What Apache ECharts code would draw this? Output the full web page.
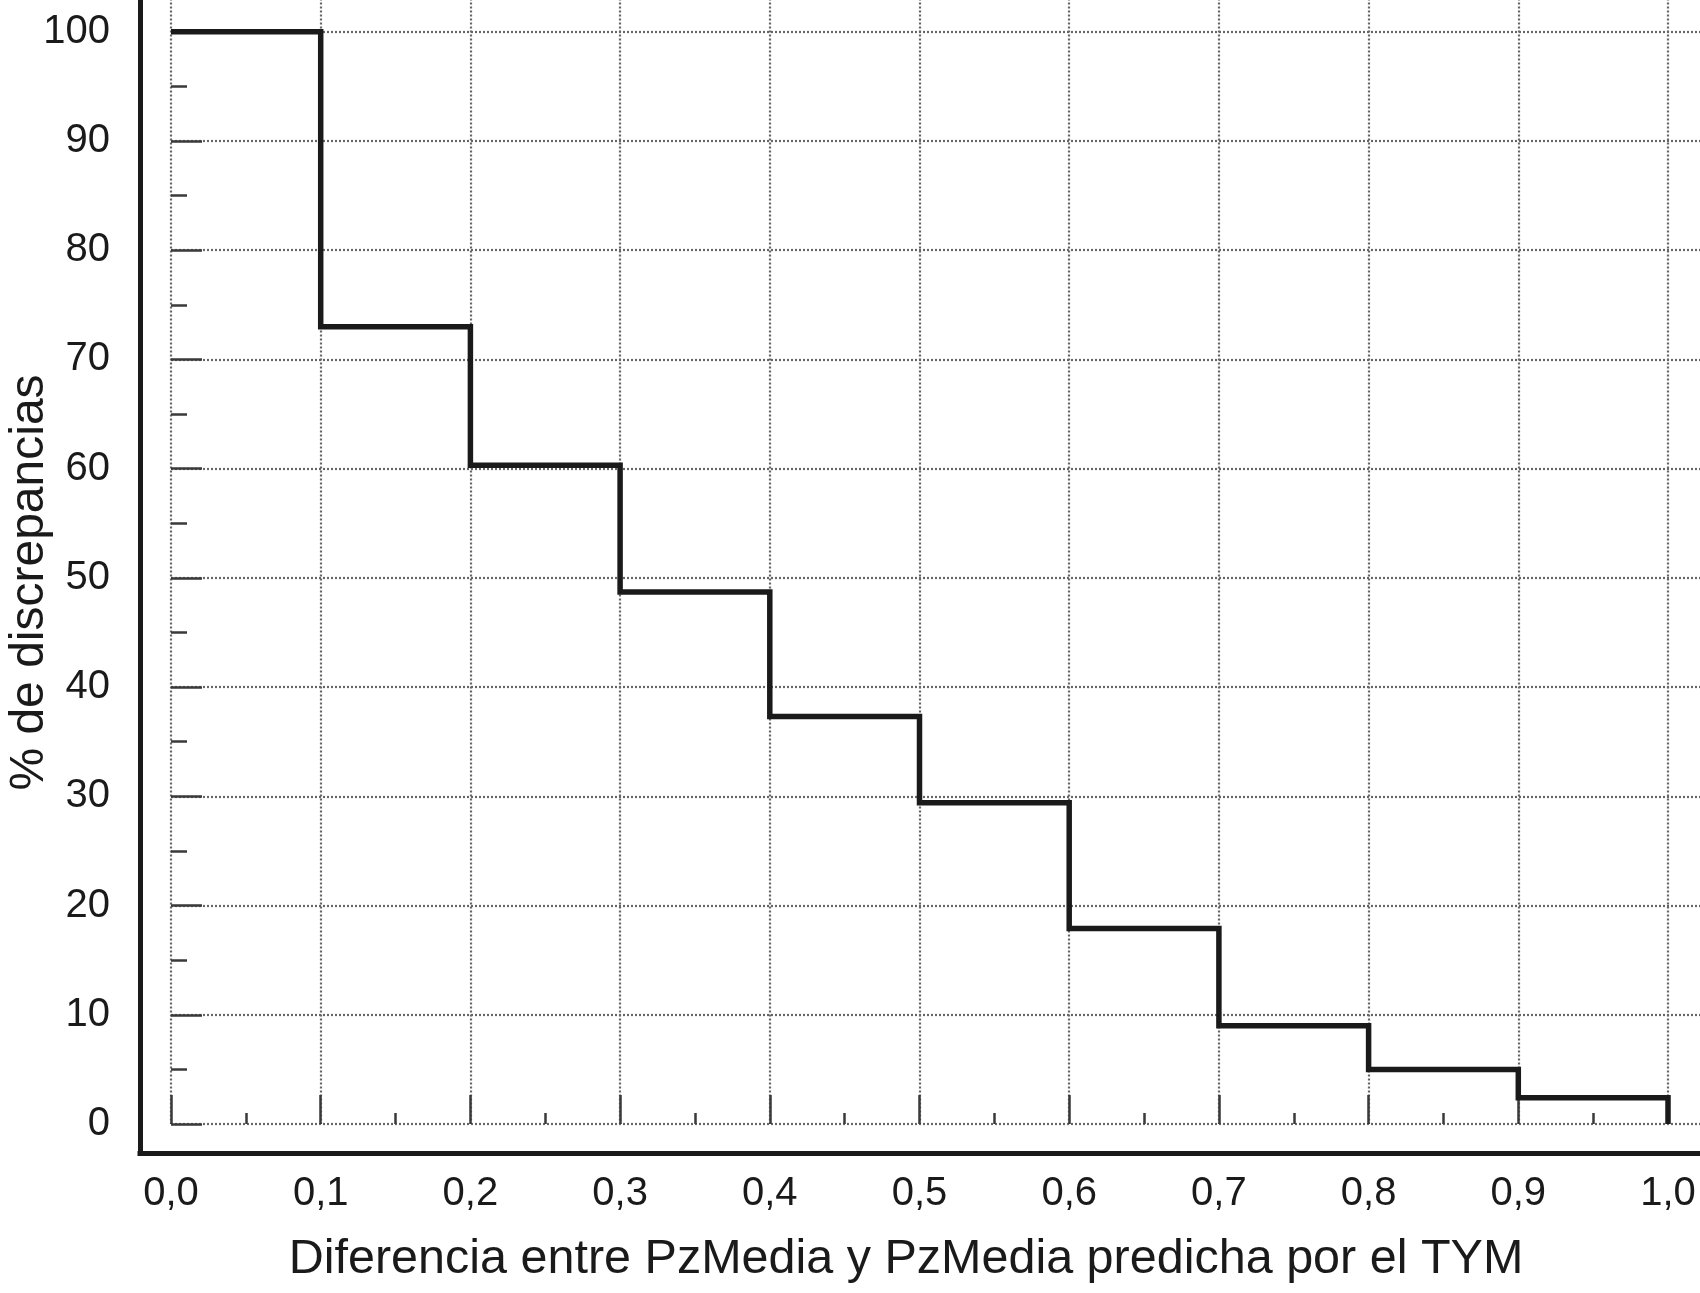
<!DOCTYPE html>
<html>
<head>
<meta charset="utf-8">
<script src="https://cdn.jsdelivr.net/npm/echarts@6/dist/echarts.min.js"></script>
<style>
html,body{margin:0;padding:0;background:#fff;}
#chart{width:1700px;height:1293px;}
</style>
</head>
<body>
<div id="chart"></div>
<script>
// Data (step function)
const xValues = [0.0, 0.1, 0.2, 0.3, 0.4, 0.5, 0.6, 0.7, 0.8, 0.9, 1.0];
const pctDiscrepancias = [100, 73, 60.3, 48.7, 37.3, 29.4, 17.9, 9.0, 5.0, 2.4, 0];
const xTickLabels = ['0,0','0,1','0,2','0,3','0,4','0,5','0,6','0,7','0,8','0,9','1,0'];
const yTickLabels = ['0','10','20','30','40','50','60','70','80','90','100'];
const xTitle = 'Diferencia entre PzMedia y PzMedia predicha por el TYM';
const yTitle = '% de discrepancias';

const FONT = '"Liberation Sans", Arial, Helvetica, sans-serif';
const INK = '#1a1a1a';
const TICK = '#3a3a3a';
const GRIDC = '#666666';

const chart = echarts.init(document.getElementById('chart'), null, {renderer: 'canvas'});

const seriesData = xValues.map((x, i) => [x, pctDiscrepancias[i]]);

chart.setOption({
  animation: false,
  backgroundColor: '#ffffff',
  grid: [
    // data grid (extends beyond the canvas so gridlines run to the edges)
    {left: 171, width: 1646.7, bottom: 169, height: 1201.5, containLabel: false, outerBoundsMode: 'none'},
    // frame grid (thick axis lines)
    {left: 140, right: -10, top: 0, bottom: 140, containLabel: false, outerBoundsMode: 'none'}
  ],
  xAxis: [
    {
      type: 'value', gridIndex: 0, min: 0, max: 1.1, interval: 0.1,
      offset: 29,
      axisLine: {show: false},
      axisTick: {show: true, inside: true, length: 29, lineStyle: {color: TICK, width: 2.5}},
      minorTick: {show: true, splitNumber: 2, length: 11, lineStyle: {color: TICK, width: 2.5}},
      axisLabel: {
        show: true, margin: 21, color: INK, fontSize: 40, fontFamily: FONT,
        formatter: function (v) {
          const i = Math.round(v * 10);
          return (Math.abs(v * 10 - i) < 1e-6 && i >= 0 && i < xTickLabels.length) ? xTickLabels[i] : '';
        }
      },
      splitLine: {show: true, lineStyle: {color: GRIDC, width: 2.2, type: [2, 2]}},
      minorSplitLine: {show: false}
    },
    {
      type: 'value', gridIndex: 1, min: 0, max: 1,
      axisLine: {show: true, lineStyle: {color: INK, width: 5, cap: 'square'}},
      axisTick: {show: false}, axisLabel: {show: false}, splitLine: {show: false},
      name: xTitle, nameLocation: 'middle', nameGap: 82,
      nameTextStyle: {color: INK, fontSize: 48.5, fontFamily: FONT, padding: [0, 38, 0, 0]}
    }
  ],
  yAxis: [
    {
      type: 'value', gridIndex: 0, min: 0, max: 110, interval: 10,
      offset: 31,
      axisLine: {show: false},
      axisTick: {show: true, inside: true, length: 31, lineStyle: {color: TICK, width: 2.5}},
      minorTick: {show: true, splitNumber: 2, length: 16, lineStyle: {color: TICK, width: 2.5}},
      axisLabel: {
        show: true, margin: 30, color: INK, fontSize: 40, fontFamily: FONT,
        formatter: function (v) {
          const i = Math.round(v / 10);
          return (i >= 0 && i < yTickLabels.length) ? yTickLabels[i] : '';
        }
      },
      splitLine: {show: true, lineStyle: {color: GRIDC, width: 2.2, type: [2, 2]}},
      minorSplitLine: {show: false}
    },
    {
      type: 'value', gridIndex: 1, min: 0, max: 1,
      axisLine: {show: true, lineStyle: {color: INK, width: 5, cap: 'square'}},
      axisTick: {show: false}, axisLabel: {show: false}, splitLine: {show: false},
      name: yTitle, nameLocation: 'middle', nameGap: 86,
      nameTextStyle: {color: INK, fontSize: 48, fontFamily: FONT, padding: [0, 12, 0, 0]}
    }
  ],
  series: [
    {
      type: 'line',
      xAxisIndex: 0, yAxisIndex: 0,
      step: 'end',
      data: seriesData,
      showSymbol: false,
      symbol: 'none',
      lineStyle: {color: INK, width: 5.5, join: 'miter', cap: 'butt'},
      z: 5
    }
  ]
});
</script>
</body>
</html>
